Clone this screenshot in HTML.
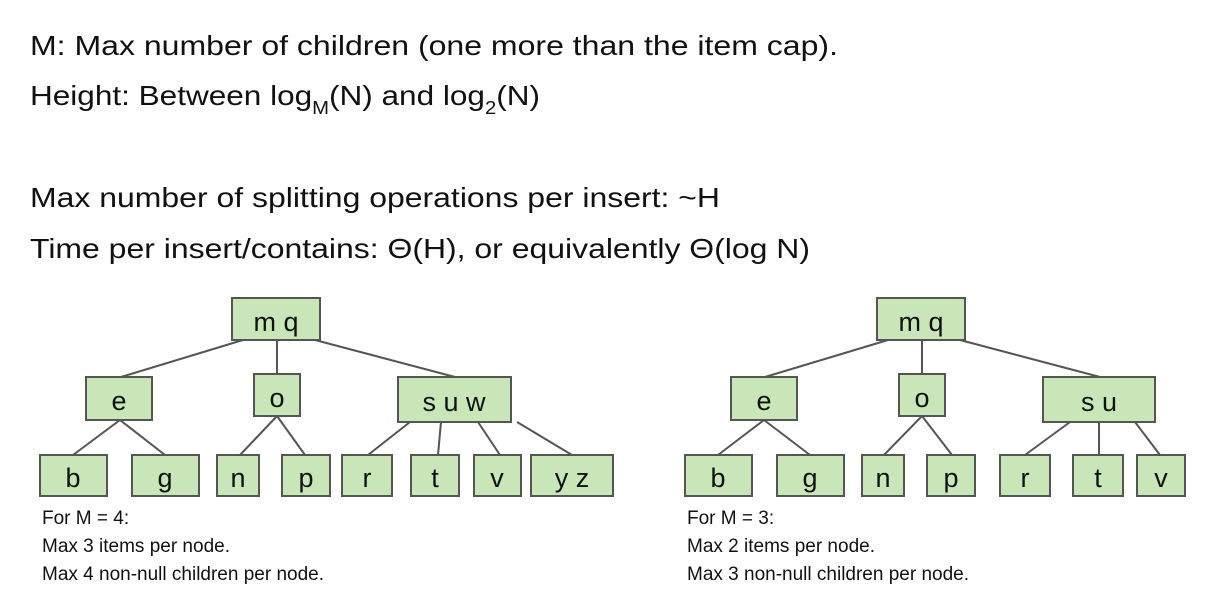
<!DOCTYPE html>
<html><head><meta charset="utf-8"><style>
html,body{margin:0;padding:0;background:#fff;}
svg{display:block;}
.t{font-family:"Liberation Sans",sans-serif;font-size:28px;fill:#111;}
.n rect{fill:#c8e6b8;stroke:#555;stroke-width:2;}
.n text{font-family:"Liberation Sans",sans-serif;font-size:27px;fill:#111;text-anchor:middle;}
.c{font-family:"Liberation Sans",sans-serif;font-size:19px;fill:#111;}
line{stroke:#555;stroke-width:2;}
</style></head><body>
<svg width="1225" height="602" viewBox="0 0 1225 602" xmlns="http://www.w3.org/2000/svg">
<text class="t" x="30" y="55" textLength="808" lengthAdjust="spacingAndGlyphs">M: Max number of children (one more than the item cap).</text>
<text class="t" x="30" y="105" textLength="510" lengthAdjust="spacingAndGlyphs">Height: Between log<tspan font-size="18" dy="9">M</tspan><tspan dy="-9">(N) and log</tspan><tspan font-size="18" dy="9">2</tspan><tspan dy="-9">(N)</tspan></text>
<text class="t" x="30" y="207" textLength="690" lengthAdjust="spacingAndGlyphs">Max number of splitting operations per insert: ~H</text>
<text class="t" x="30" y="258" textLength="780" lengthAdjust="spacingAndGlyphs">Time per insert/contains: Θ(H), or equivalently Θ(log N)</text>

<line x1="243" y1="340" x2="121" y2="377"/>
<line x1="277" y1="340" x2="277" y2="374"/>
<line x1="315" y1="340" x2="455" y2="377"/>
<line x1="120" y1="420" x2="73" y2="455"/>
<line x1="120" y1="420" x2="165" y2="455"/>
<line x1="277" y1="416" x2="240" y2="455"/>
<line x1="277" y1="416" x2="305" y2="455"/>
<line x1="410" y1="422" x2="368" y2="455"/>
<line x1="441" y1="422" x2="438" y2="455"/>
<line x1="478" y1="422" x2="500" y2="455"/>
<line x1="517" y1="422" x2="572" y2="455"/>
<g class="n">
<rect x="232" y="298" width="88" height="42"/><text x="276" y="331">m q</text>
<rect x="86" y="377" width="66" height="43"/><text x="119" y="410">e</text>
<rect x="254" y="374" width="46" height="42"/><text x="277" y="407">o</text>
<rect x="398" y="377" width="113" height="45"/><text x="454" y="411">s u w</text>
<rect x="40" y="455" width="67" height="41"/><text x="73" y="487">b</text>
<rect x="132" y="455" width="67" height="41"/><text x="165" y="487">g</text>
<rect x="217" y="455" width="42" height="41"/><text x="238" y="487">n</text>
<rect x="282" y="455" width="48" height="41"/><text x="306" y="487">p</text>
<rect x="342" y="455" width="50" height="41"/><text x="367" y="487">r</text>
<rect x="411" y="455" width="48" height="41"/><text x="435" y="487">t</text>
<rect x="474" y="455" width="47" height="41"/><text x="497" y="487">v</text>
<rect x="531" y="455" width="82" height="41"/><text x="572" y="487">y z</text>
</g>
<text class="c" x="42" y="524">For M = 4:</text>
<text class="c" x="42" y="552">Max 3 items per node.</text>
<text class="c" x="42" y="580">Max 4 non-null children per node.</text>

<line x1="888" y1="340" x2="765" y2="377"/>
<line x1="922" y1="340" x2="922" y2="374"/>
<line x1="960" y1="340" x2="1100" y2="377"/>
<line x1="764" y1="420" x2="718" y2="455"/>
<line x1="764" y1="420" x2="810" y2="455"/>
<line x1="922" y1="416" x2="884" y2="455"/>
<line x1="922" y1="416" x2="952" y2="455"/>
<line x1="1070" y1="422" x2="1025" y2="455"/>
<line x1="1099" y1="422" x2="1099" y2="455"/>
<line x1="1135" y1="422" x2="1160" y2="455"/>
<g class="n">
<rect x="877" y="298" width="88" height="42"/><text x="921" y="331">m q</text>
<rect x="731" y="377" width="66" height="43"/><text x="764" y="410">e</text>
<rect x="899" y="374" width="46" height="42"/><text x="922" y="407">o</text>
<rect x="1043" y="377" width="112" height="45"/><text x="1099" y="411">s u</text>
<rect x="685" y="455" width="67" height="41"/><text x="718" y="487">b</text>
<rect x="777" y="455" width="67" height="41"/><text x="810" y="487">g</text>
<rect x="862" y="455" width="42" height="41"/><text x="883" y="487">n</text>
<rect x="927" y="455" width="48" height="41"/><text x="951" y="487">p</text>
<rect x="1000" y="455" width="50" height="41"/><text x="1025" y="487">r</text>
<rect x="1073" y="455" width="50" height="41"/><text x="1098" y="487">t</text>
<rect x="1137" y="455" width="48" height="41"/><text x="1161" y="487">v</text>
</g>
<text class="c" x="687" y="524">For M = 3:</text>
<text class="c" x="687" y="552">Max 2 items per node.</text>
<text class="c" x="687" y="580">Max 3 non-null children per node.</text>
</svg>
</body></html>
